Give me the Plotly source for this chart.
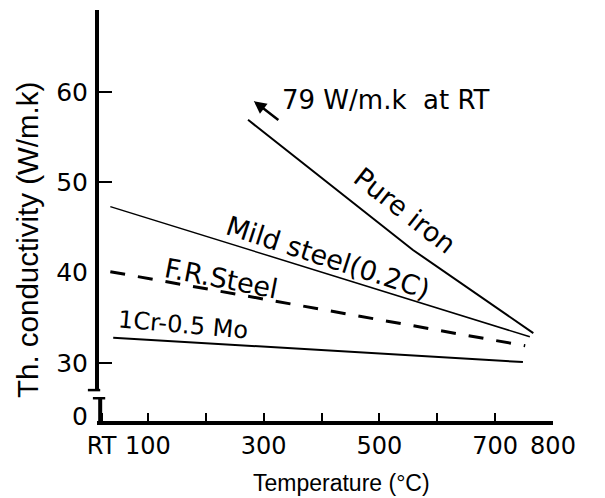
import plotly.graph_objects as go

# ---- data ----
pure_iron_T = [273, 455, 558, 766]
pure_iron_k = [56.9, 47.7, 42.5, 33.3]
mild_steel_T = [35, 518, 760]
mild_steel_k = [47.3, 37.7, 32.9]
fr_steel_T = [35, 506, 752]
fr_steel_k = [40.1, 34.7, 31.9]
crmo_T = [40, 748]
crmo_k = [32.8, 30.1]

x_tick_vals = [20, 100, 200, 300, 400, 500, 600, 700, 800]
x_tick_text = ["RT", "100", "", "300", "", "500", "", "700", "800"]
y_label_vals = [24.1, 30, 40, 50, 60]
y_label_text = ["0", "30", "40", "50", "60"]
y_tick_vals = [30, 50, 60]

X_RANGE = [12, 800]
Y_RANGE = [23.58, 69.05]
BREAK_LO, BREAK_HI = 26.1, 27.0

LBL_FONT = "DejaVu Sans"
TITLE_FONT = "Liberation Sans, Arial"

fig = go.Figure()
fig.add_trace(go.Scatter(x=pure_iron_T, y=pure_iron_k, mode="lines",
                         line=dict(color="black", width=2), name="Pure iron"))
fig.add_trace(go.Scatter(x=mild_steel_T, y=mild_steel_k, mode="lines",
                         line=dict(color="black", width=1.5), name="Mild steel(0.2C)"))
fig.add_trace(go.Scatter(x=fr_steel_T, y=fr_steel_k, mode="lines",
                         line=dict(color="black", width=3, dash="15px,13px"), name="F.R.Steel"))
fig.add_trace(go.Scatter(x=crmo_T, y=crmo_k, mode="lines",
                         line=dict(color="black", width=2), name="1Cr-0.5 Mo"))
# empty trace so the tick-mark axis is rendered
fig.add_trace(go.Scatter(x=[], y=[], yaxis="y2", showlegend=False))

annotations = [
    # arrow
    dict(x=283, y=58.97, ax=328, ay=56.76, xref="x", yref="y", axref="x", ayref="y",
         text="", showarrow=True, arrowhead=2, arrowsize=1, arrowwidth=2.5, arrowcolor="black"),
    dict(x=328, y=59.1, xref="x", yref="y", text="79 W/m.k\u00a0 at RT", showarrow=False,
         xanchor="left", yanchor="middle", font=dict(family=LBL_FONT, size=26, color="black")),
    dict(x=544, y=46.9, xref="x", yref="y", text="Pure iron", showarrow=False, textangle=38,
         font=dict(family=LBL_FONT, size=27, color="black")),
    dict(x=411, y=41.7, xref="x", yref="y", text="Mild steel(0.2C)", showarrow=False, textangle=18,
         font=dict(family=LBL_FONT, size=27, color="black")),
    dict(x=228, y=39.4, xref="x", yref="y", text="F.R.Steel", showarrow=False, textangle=11,
         font=dict(family=LBL_FONT, size=27, color="black")),
    dict(x=161, y=34.2, xref="x", yref="y", text="1Cr-0.5 Mo", showarrow=False, textangle=5,
         font=dict(family=LBL_FONT, size=24, color="black")),
    # axis titles
    dict(x=-0.1513, y=0.4404, xref="paper", yref="paper", text="Th. conductivity (W/m.k)",
         showarrow=False, textangle=-90, xanchor="center", yanchor="middle",
         font=dict(family=TITLE_FONT, size=29.5, color="black")),
    dict(x=0.537, y=-0.1509, xref="paper", yref="paper", text="Temperature (°C)",
         showarrow=False, xanchor="center", yanchor="middle",
         font=dict(family=TITLE_FONT, size=23, color="black")),
]

shapes = [
    # y axis, upper and lower pieces (axis break)
    dict(type="line", xref="paper", yref="y", x0=0, x1=0, y0=BREAK_HI, y1=Y_RANGE[1],
         line=dict(color="black", width=4)),
    dict(type="line", xref="paper", yref="y", x0=0.007, x1=0.007, y0=Y_RANGE[0], y1=BREAK_LO,
         line=dict(color="black", width=4)),
    # break marks
    dict(type="line", xref="paper", yref="y", x0=-0.02, x1=0.007, y0=BREAK_HI, y1=BREAK_HI,
         line=dict(color="black", width=2.5)),
    dict(type="line", xref="paper", yref="y", x0=-0.009, x1=0.018, y0=BREAK_LO, y1=BREAK_LO,
         line=dict(color="black", width=2.5)),
]

fig.update_layout(
    width=605, height=498,
    margin=dict(l=97, r=52, t=10, b=77),
    paper_bgcolor="white", plot_bgcolor="white",
    showlegend=False,
    annotations=annotations,
    shapes=shapes,
    xaxis=dict(range=X_RANGE, tickmode="array", tickvals=x_tick_vals, ticktext=x_tick_text,
               showline=True, linecolor="black", linewidth=4, ticks="inside", ticklen=8,
               tickwidth=2, tickcolor="black", showgrid=False, zeroline=False,
               tickfont=dict(family=LBL_FONT, size=24, color="black")),
    yaxis=dict(range=Y_RANGE, tickmode="array", tickvals=y_label_vals, ticktext=y_label_text,
               showline=False, ticks="", showgrid=False, zeroline=False,
               ticklabelstandoff=8,
               tickfont=dict(family=LBL_FONT, size=25, color="black")),
    yaxis2=dict(range=Y_RANGE, overlaying="y", side="left", tickmode="array",
                tickvals=y_tick_vals, ticks="inside", ticklen=15, tickwidth=2,
                tickcolor="black", showticklabels=False, showgrid=False, zeroline=False,
                showline=False),
)

fig.write_html("out.html")
